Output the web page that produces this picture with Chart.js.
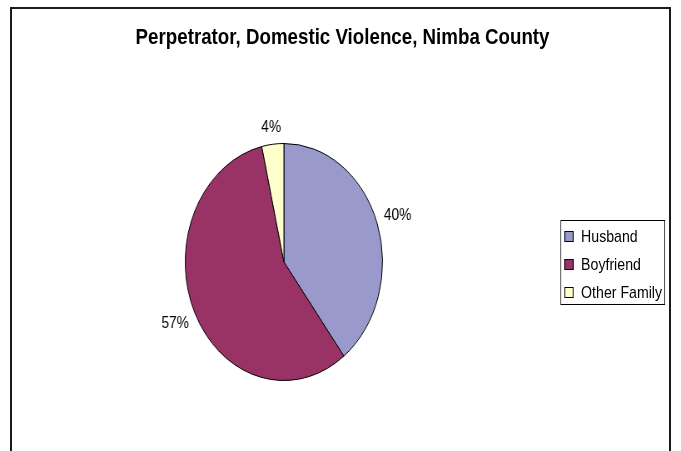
<!DOCTYPE html>
<html lang="en">
<head>
  <meta charset="UTF-8" />
  <title>Perpetrator, Domestic Violence, Nimba County</title>
  <script src="https://cdn.jsdelivr.net/npm/chart.js"></script>
  <style>
    body {
      margin: 0;
      background-color: #fff;
      font-family: "Liberation Sans", Arial, sans-serif;
    }
    .frame {
      position: absolute;
      left: 10px;
      top: 7px;
      width: 661px;
      height: 470px;
      border: 2px solid #1a1a1a;
      box-sizing: border-box;
    }
    /* the original picture is squeezed sideways, so the whole chart is too */
    .squeeze {
      position: absolute;
      left: 0;
      top: 0;
      width: 818px;
      height: 451px;
      transform: scaleX(0.8325);
      transform-origin: 0 0;
    }
    .title {
      position: absolute;
      left: 0;
      top: 24px;
      width: 823px;
      text-align: center;
      font-weight: bold;
      font-size: 22.5px;
      line-height: 26px;
      color: #000;
    }
    .legend {
      position: absolute;
      left: 673px;
      top: 220px;
      width: 126px;
      height: 85px;
      border: 1px solid #000;
      box-sizing: border-box;
    }
    .legend-item {
      position: absolute;
      left: 4px;
      height: 20px;
      font-size: 17px;
      line-height: 20px;
      white-space: nowrap;
    }
    .legend-item span {
      display: inline-block;
      width: 9px;
      height: 9px;
      border: 1px solid #000;
      margin-right: 9px;
      vertical-align: 0px;
    }
    canvas {
      position: absolute;
      left: 0;
      top: 0;
    }
  </style>
</head>
<body>
  <div class="frame"></div>
  <div class="squeeze">
    <div class="title" id="title"></div>
    <canvas id="pie" width="818" height="451"></canvas>
    <div class="legend" id="legend"></div>
  </div>

  <script>
    const chartTitle = "Perpetrator, Domestic Violence, Nimba County";
    const categories = ["Husband", "Boyfriend", "Other Family"];
    const shares = [39.6, 56.8, 3.6];
    const colors = ["#9999CC", "#993366", "#FFFFCC"];

    document.getElementById("title").textContent = chartTitle;

    // legend as plain html text
    const legend = document.getElementById("legend");
    categories.forEach((name, i) => {
      const item = document.createElement("div");
      item.classList.add("legend-item");
      item.style.top = (6 + i * 28) + "px";
      const box = document.createElement("span");
      box.style.backgroundColor = colors[i];
      item.appendChild(box);
      item.append(name);
      legend.appendChild(item);
    });

    // percent labels outside each slice
    const outsideLabels = {
      id: "outsideLabels",
      afterDatasetsDraw(chart) {
        const ctx = chart.ctx;
        const meta = chart.getDatasetMeta(0);
        const data = chart.data.datasets[0].data;
        const total = data.reduce((a, b) => a + b, 0);
        ctx.save();
        ctx.font = "16.5px 'Liberation Sans', Arial, sans-serif";
        ctx.fillStyle = "#000";
        ctx.textAlign = "center";
        ctx.textBaseline = "middle";
        meta.data.forEach((arc, i) => {
          const p = arc.getProps(["x", "y", "startAngle", "endAngle", "outerRadius"], true);
          const mid = (p.startAngle + p.endAngle) / 2;
          const text = Math.round(data[i] / total * 100) + "%";
          const halfW = ctx.measureText(text).width / 2;
          const cos = Math.cos(mid), sin = Math.sin(mid);
          const d = p.outerRadius + 7.5 + Math.abs(cos) * halfW + Math.abs(sin) * 8;
          ctx.fillText(text, p.x + cos * d, p.y + sin * d);
        });
        ctx.restore();
      }
    };

    new Chart(document.getElementById("pie"), {
      type: "pie",
      data: {
        labels: categories,
        datasets: [{
          data: shares,
          backgroundColor: colors,
          borderColor: "#000",
          borderWidth: 1
        }]
      },
      options: {
        responsive: false,
        animation: false,
        layout: {
          padding: { top: 143, bottom: 70, left: 222, right: 358 }
        },
        plugins: {
          legend: { display: false },
          title: { display: false },
          tooltip: { enabled: false }
        }
      },
      plugins: [outsideLabels]
    });
  </script>
</body>
</html>
